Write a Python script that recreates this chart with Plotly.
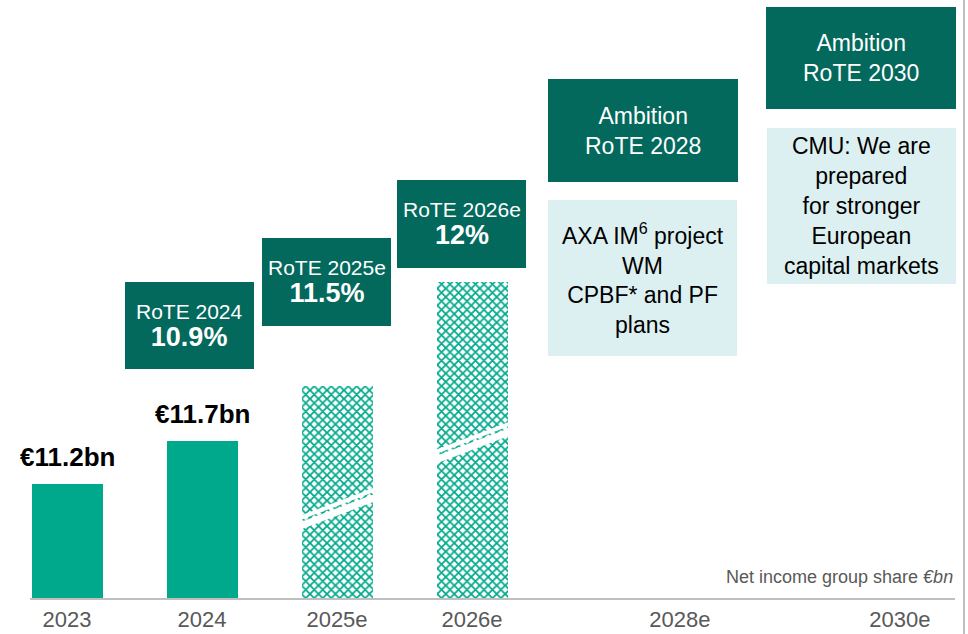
import plotly.graph_objects as go

# ---- data -------------------------------------------------------------
years = ["2023", "2024", "2025e", "2026e", "2028e", "2030e"]
net_income = [11.2, 11.7]                 # reported, €bn
net_income_labels = ["€11.2bn", "€11.7bn"]
projection_years = ["2025e", "2026e"]
projection_heights = [12.34, 13.55]       # illustrative (not to scale)

rote_years = ["2024", "2025e", "2026e"]
rote_titles = ["RoTE 2024", "RoTE 2025e", "RoTE 2026e"]
rote_values = ["10.9%", "11.5%", "12%"]

ambition_titles = ["Ambition<br>RoTE 2028", "Ambition<br>RoTE 2030"]
ambition_notes = [
    "AXA IM<sup>6</sup> project<br>WM<br>CPBF* and PF<br>plans",
    "CMU: We are<br>prepared<br>for stronger<br>European<br>capital markets",
]

# ---- layout / style -----------------------------------------------------
W, H = 968, 634
ML, MR, MT, MB = 30, 13, 0, 36
PW, PH = W - ML - MR, H - MT - MB

SLOT = 135.0                                   # px between yearly slots
slot_pos = [0, 1, 2, 3, 4.54, 6.17]            # slot index of each year
x_of = dict(zip(years, slot_pos))
x_range = [(ML - 67) / SLOT, (ML + PW - 67) / SLOT]
bar_w = 71 / SLOT

PX_PER_BN = 86.0
y_floor = net_income[0] - 114 / PX_PER_BN
y_range = [y_floor, y_floor + PH / PX_PER_BN]

GREEN = "#00A98B"
DARK = "#03695C"
LIGHT = "#DDF0F1"
GREY = "#BFBFBF"
TXT_GREY = "#595959"
FONT = "Liberation Sans, Arial, sans-serif"


def px_x(px):
    return (px - ML) / PW


def px_y(py):
    return (MT + PH - py) / PH


fig = go.Figure()

# reported years: solid bars
fig.add_trace(go.Bar(
    x=[x_of[y] for y in years[:2]], y=net_income, width=bar_w,
    marker=dict(color=GREEN, line=dict(width=0)),
    hoverinfo="skip", showlegend=False,
))

# projected years: patterned bars
fig.add_trace(go.Bar(
    x=[x_of[y] for y in projection_years], y=projection_heights, width=bar_w,
    marker=dict(
        color="white", line=dict(width=0),
        pattern=dict(shape="x", fgcolor=GREEN, bgcolor="white",
                     size=6, solidity=0.5, fillmode="replace"),
    ),
    hoverinfo="skip", showlegend=False,
))

shapes = []
annotations = []

# axis-break marks across projected bars
break_frac = [0.42, 0.49]
rise = 29 / PX_PER_BN
for yr, h, f in zip(projection_years, projection_heights, break_frac):
    xc = x_of[yr]
    yc = y_floor + (h - y_floor) * f
    for off, lw in [(5 / PX_PER_BN, 4), (-3 / PX_PER_BN, 7)]:
        shapes.append(dict(
            type="line", xref="x", yref="y",
            x0=xc - bar_w / 2 - 0.02, x1=xc + bar_w / 2 + 0.02,
            y0=yc - rise / 2 + off, y1=yc + rise / 2 + off,
            line=dict(color="white", width=lw), layer="above",
        ))

# value labels above reported bars
for yr, v, t in zip(years[:2], net_income, net_income_labels):
    annotations.append(dict(
        x=x_of[yr], y=v, xref="x", yref="y", text=f"<b>{t}</b>",
        showarrow=False, yanchor="middle", yshift=27,
        font=dict(family=FONT, size=26, color="black"),
    ))


def box(x0, y0, x1, y1, fill, text, size, color):
    shapes.append(dict(
        type="rect", xref="paper", yref="paper",
        x0=px_x(x0), x1=px_x(x1), y0=px_y(y1), y1=px_y(y0),
        fillcolor=fill, line=dict(width=0), layer="above",
    ))
    annotations.append(dict(
        x=px_x((x0 + x1) / 2), y=px_y((y0 + y1) / 2),
        xref="paper", yref="paper", text=text, showarrow=False,
        xanchor="center", yanchor="middle", align="center",
        font=dict(family=FONT, size=size, color=color),
    ))


# RoTE boxes
rote_boxes = [(125, 282, 254, 369), (262, 238, 391, 326), (397, 180, 526, 268)]
for (x0, y0, x1, y1), t, v in zip(rote_boxes, rote_titles, rote_values):
    box(x0, y0, x1, y1, DARK,
        f"{t}<br><b><span style='font-size:27px'>{v}</span></b>", 21, "white")

# ambition boxes and notes
amb_boxes = [(548, 79, 738, 182), (766, 7, 956, 109)]
note_boxes = [(548, 200, 737, 356), (767, 128, 956, 284)]
for (x0, y0, x1, y1), t in zip(amb_boxes, ambition_titles):
    box(x0, y0, x1, y1, DARK, t, 23, "white")
for (x0, y0, x1, y1), t in zip(note_boxes, ambition_notes):
    box(x0, y0, x1, y1, LIGHT, t, 23, "black")

# unit note
annotations.append(dict(
    x=1.0, y=px_y(577), xref="paper", yref="paper",
    text="Net income group share <i>€bn</i>", showarrow=False,
    xanchor="right", yanchor="middle",
    font=dict(family=FONT, size=18, color=TXT_GREY),
))

# right-hand frame line
shapes.append(dict(
    type="line", xref="paper", yref="paper",
    x0=px_x(964), x1=px_x(964), y0=px_y(H), y1=px_y(0),
    line=dict(color=GREY, width=2),
))

fig.update_layout(
    width=W, height=H,
    margin=dict(l=ML, r=MR, t=MT, b=MB, pad=0, autoexpand=False),
    paper_bgcolor="white", plot_bgcolor="white",
    barmode="overlay", bargap=0,
    shapes=shapes, annotations=annotations,
    xaxis=dict(
        range=x_range, tickmode="array",
        tickvals=[x_of[y] for y in years], ticktext=years,
        tickfont=dict(family=FONT, size=22, color=TXT_GREY),
        ticklabelstandoff=1, automargin=False,
        showgrid=False, zeroline=False, ticks="",
        showline=True, linecolor=GREY, linewidth=2,
        fixedrange=True,
    ),
    yaxis=dict(range=y_range, visible=False, showgrid=False,
               fixedrange=True, automargin=False),
)

fig.write_html("out.html", config={"displayModeBar": False})
